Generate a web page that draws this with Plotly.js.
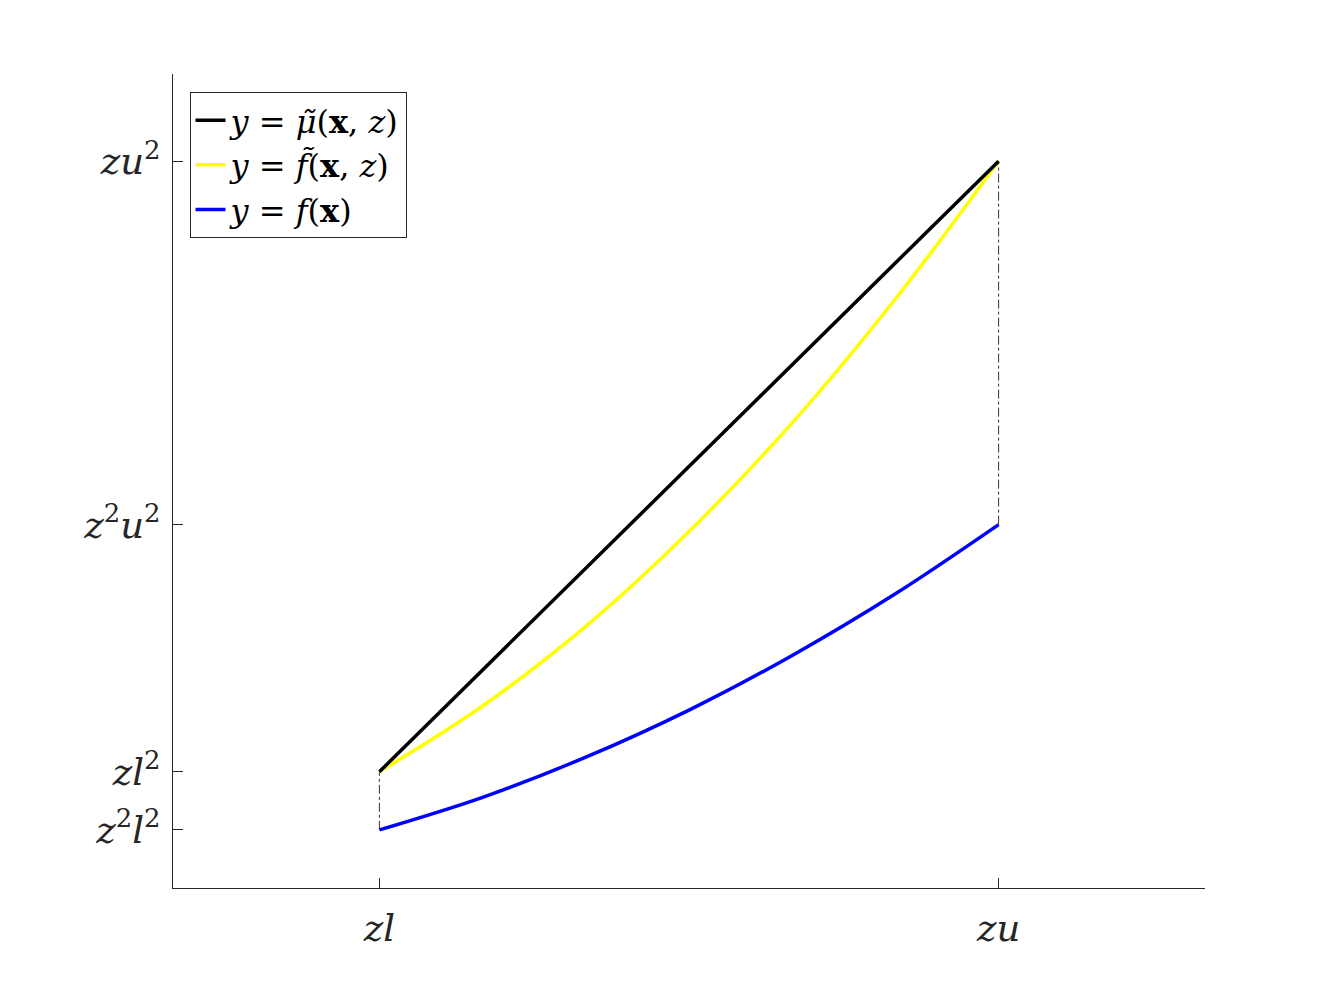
<!DOCTYPE html>
<html>
<head>
<meta charset="utf-8">
<script src="https://cdn.plot.ly/plotly-3.0.1.min.js"></script>
<style>
  html, body { margin: 0; padding: 0; background: #fff; }
  #graph { width: 1333px; height: 1000px; }
</style>
</head>
<body>
<div id="graph"></div>
<script>
// points (z = 0.5, l = 2, u = 5)
const xCurve = [1, 1.25, 1.5, 1.75, 2, 2.25, 2.5];
const yTildeF = [2, 3.13, 4.5, 6.13, 8, 10.13, 12.5];
const yF = [1, 1.56, 2.25, 3.06, 4, 5.06, 6.25];
const xMu = [1, 2.5];
const yMu = [2, 12.5];

// dash-dot guides at the two ends
const guideLeftX = [1, 1];
const guideLeftY = [1, 2];
const guideRightX = [2.5, 2.5];
const guideRightY = [6.25, 12.5];

const xTickVals = [1, 2.5];
const xTickText = ['<i>zl</i>', '<i>zu</i>'];
const yTickVals = [1, 2, 6.25, 12.5];
const yTickText = ['<i>z</i><sup>2</sup><i>l</i><sup>2</sup>', '<i>zl</i><sup>2</sup>',
                   '<i>z</i><sup>2</sup><i>u</i><sup>2</sup>', '<i>zu</i><sup>2</sup>'];

const eq = '&nbsp;=&nbsp;';
const legendNames = [
  '<i>y</i>' + eq + '<i>\u03bc\u0303</i>(<b>x</b>,&nbsp;<i>z</i>)',
  '<i>y</i>' + eq + '<i>f\u0303</i>(<b>x</b>,&nbsp;<i>z</i>)',
  '<i>y</i>' + eq + '<i>f</i>(<b>x</b>)'
];

function makePlot() {
  const guide = { color: '#000', width: 0.8, dash: 'dashdot' };

  const traces = [
    { x: guideLeftX, y: guideLeftY, mode: 'lines', line: guide, showlegend: false, hoverinfo: 'skip' },
    { x: guideRightX, y: guideRightY, mode: 'lines', line: guide, showlegend: false, hoverinfo: 'skip' },
    {
      x: xCurve, y: yF, mode: 'lines', name: legendNames[2],
      line: { color: '#0000ff', width: 3.5, shape: 'spline' }, legendrank: 3
    },
    {
      x: xCurve, y: yTildeF, mode: 'lines', name: legendNames[1],
      line: { color: '#ffff00', width: 3.5, shape: 'spline' }, legendrank: 2
    },
    {
      x: xMu, y: yMu, mode: 'lines', name: legendNames[0],
      line: { color: '#000000', width: 3.5 }, legendrank: 1
    }
  ];

  const axisStyle = {
    showline: true, linecolor: '#262626', linewidth: 1,
    ticks: 'inside', ticklen: 10, tickcolor: '#262626', tickwidth: 1,
    showgrid: false, zeroline: false, mirror: false,
    tickfont: { family: 'DejaVu Serif', size: 37, color: '#262626' }
  };

  const layout = {
    width: 1333, height: 1000,
    margin: { l: 173, r: 128, t: 74, b: 112 },
    paper_bgcolor: '#fff', plot_bgcolor: '#fff',
    xaxis: Object.assign({}, axisStyle, {
      range: [0.5, 3], tickmode: 'array', tickvals: xTickVals, ticktext: xTickText, ticklabelstandoff: 8
    }),
    yaxis: Object.assign({}, axisStyle, {
      range: [0, 14], tickmode: 'array', tickvals: yTickVals, ticktext: yTickText, ticklabelstandoff: 4
    }),
    legend: {
      x: 0.016, y: 0.978, xanchor: 'left', yanchor: 'top',
      bgcolor: '#fff', bordercolor: '#262626', borderwidth: 1,
      font: { family: 'DejaVu Serif', size: 32, color: '#000' },
      traceorder: 'normal', tracegroupgap: 0
    },
    showlegend: true
  };

  Plotly.newPlot('graph', traces, layout, { staticPlot: true });
}

makePlot();
</script>
</body>
</html>
